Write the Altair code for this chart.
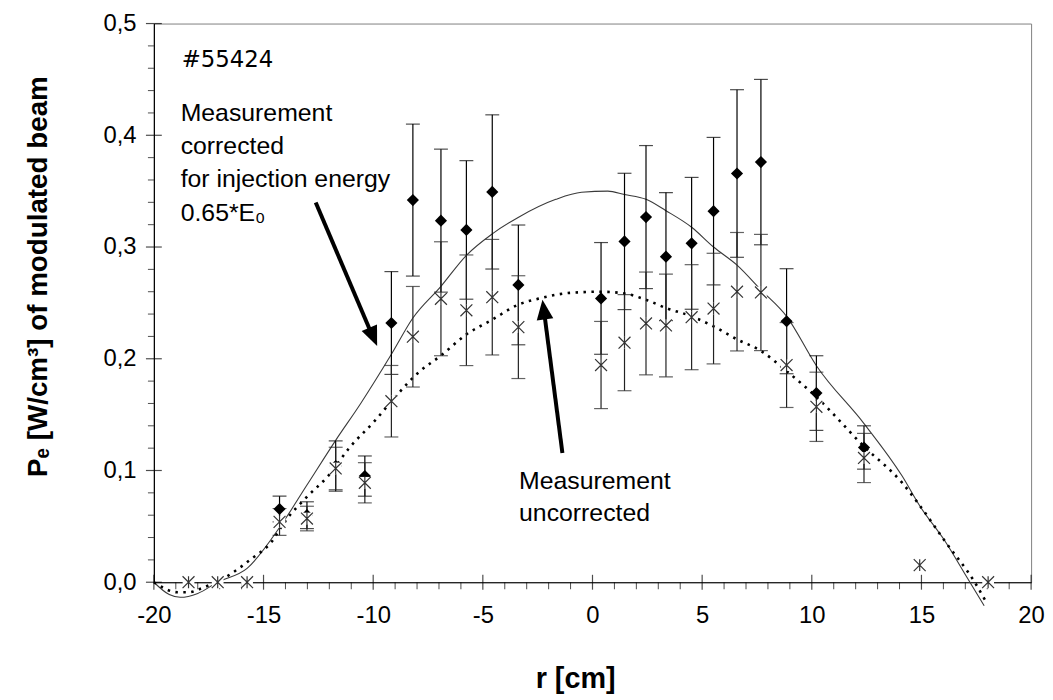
import altair as alt
import pandas as pd

# ---------------- data ----------------
# corrected measurement (filled diamonds) : r [cm], Pe, error
corr_r = [-14.27, -13.02, -11.71, -10.38, -9.17, -8.19, -6.91, -5.75, -4.57, -3.38,
          0.39, 1.46, 2.44, 3.35, 4.52, 5.52, 6.59, 7.68, 8.85, 10.21, 12.38]
corr_p = [0.0655, 0.060, 0.104, 0.095, 0.232, 0.342, 0.3236, 0.3153, 0.3493, 0.2661,
          0.254, 0.305, 0.3268, 0.2914, 0.3033, 0.3321, 0.3658, 0.376, 0.2336, 0.1693, 0.1206]
corr_err = [0.0115, 0.012, 0.0225, 0.018, 0.046, 0.068, 0.064, 0.062, 0.069, 0.0536,
            0.050, 0.061, 0.064, 0.0573, 0.059, 0.066, 0.075, 0.074, 0.047, 0.0334, 0.0194]

# uncorrected measurement (asterisks)
unc_r = [-18.42, -17.09, -15.75, -14.27, -13.02, -11.71, -10.38, -9.17, -8.19, -6.91,
         -5.75, -4.57, -3.38, 0.39, 1.46, 2.44, 3.35, 4.52, 5.52, 6.59, 7.68, 8.85,
         10.21, 12.38, 14.92, 18.04]
unc_p = [0.0, 0.0, 0.0, 0.054, 0.057, 0.1018, 0.089, 0.162, 0.2197, 0.2537,
         0.2434, 0.2551, 0.2283, 0.1944, 0.2144, 0.2316, 0.2298, 0.2372, 0.2449, 0.260,
         0.2593, 0.1944, 0.157, 0.1112, 0.0153, 0.0]
unc_err = [None, None, None, 0.012, 0.011, 0.019, 0.018, 0.032, 0.045, 0.051,
           0.0495, 0.0517, 0.046, 0.039, 0.043, 0.046, 0.046, 0.047, 0.0495, 0.053,
           0.052, 0.038, 0.031, 0.022, None, None]

# fitted profile for corrected data (thin solid line)
fitc_r = [-20, -19.3, -18.8, -18.0, -17.1, -15.75, -14.27, -13.02, -11.71, -10.57,
          -9.17, -8.19, -6.92, -5.75, -4.57, -3.39, -1.67, -0.5, 0.7, 1.46, 2.44,
          3.35, 4.52, 5.52, 6.59, 7.68, 8.85, 10.21, 12.38, 14.12, 14.92, 16.1, 17.1, 17.86]
fitc_p = [0.0, -0.011, -0.0135, -0.01, 0.0, 0.0124, 0.049, 0.087, 0.127, 0.160,
          0.204, 0.2365, 0.2646, 0.2926, 0.3118, 0.3265, 0.3427, 0.349, 0.350, 0.347, 0.3427,
          0.3325, 0.3177, 0.300, 0.2838, 0.2617, 0.238, 0.1938, 0.142, 0.095, 0.0684, 0.036, 0.0035, -0.021]

# fitted profile for uncorrected data (dotted line)
fitu_r = [-20, -18.9, -18.4, -17.9, -17.4, -16.86, -16.45, -15.55, -14.64, -14.04,
          -12.99, -12.06, -11.1, -9.9, -9.12, -7.86, -6.92, -5.75, -4.57, -3.39, -2.35,
          -1.0, 0.39, 1.46, 2.44, 3.35, 4.52, 5.52, 6.59, 7.68, 8.85, 10.21, 12.38,
          14.12, 14.82, 16.12, 17.41, 17.93]
fitu_p = [0.0, -0.009, -0.009, -0.006, -0.002, 0.003, 0.008, 0.021, 0.036, 0.054,
          0.077, 0.095, 0.120, 0.145, 0.163, 0.189, 0.2027, 0.2218, 0.235, 0.2484, 0.2543,
          0.259, 0.260, 0.2584, 0.2528, 0.2454, 0.238, 0.229, 0.2174, 0.207, 0.189, 0.1658, 0.1215,
          0.089, 0.0714, 0.0354, 0.0006, -0.017]

x_ticks = [-20, -15, -10, -5, 0, 5, 10, 15, 20]
y_ticks = [0.0, 0.1, 0.2, 0.3, 0.4, 0.5]
x_minor = [v for v in range(-20, 21) if v % 5 != 0]
y_minor = [round(0.02 * k, 2) for k in range(26) if k % 5 != 0]

# annotation arrows (data coordinates): start, end of shaft, tip, direction angle
arrow_x = [-12.62, -1.371]
arrow_y = [0.3398, 0.1157]
arrow_x2 = [-10.05, -2.208]
arrow_y2 = [0.2212, 0.2423]
tip_x = [-9.82, -2.281]
tip_y = [0.2115, 0.2528]
tip_ang = [156.9, 352.6]

# ---------------- chart ----------------
W, H = 884, 563
xs = alt.Scale(domain=[-20, 20], nice=False, zero=False)
ys = alt.Scale(domain=[0, 0.5], nice=False, zero=False)
FONT = "Liberation Sans"

x_axis = alt.Axis(values=x_ticks, ticks=False, grid=False, labelFontSize=24, labelFont=FONT,
                  labelColor="black", domainColor="black", domainWidth=1.2, labelPadding=22,
                  title=None, labelFlush=False, labelOverlap=False,
                  labelExpr="datum.value < 0 ? '-' + abs(datum.value) : '' + datum.value")
y_axis = alt.Axis(values=y_ticks, ticks=False, grid=False, labelFontSize=24, labelFont=FONT,
                  labelColor="black", domainColor="black", domainWidth=1.2, labelPadding=18,
                  title=None, labelExpr="replace(format(datum.value, '.1f'), '.', ',')")


def X(f="r"):
    return alt.X(f"{f}:Q", scale=xs, axis=x_axis, title=None)


def Y(f="p"):
    return alt.Y(f"{f}:Q", scale=ys, axis=y_axis, title=None)


df_fc = pd.DataFrame({"r": fitc_r, "p": fitc_p})
df_fu = pd.DataFrame({"r": fitu_r, "p": fitu_p})
df_c = pd.DataFrame({"r": corr_r, "p": corr_p, "e": corr_err})
df_c["lo"] = df_c.p - df_c.e
df_c["hi"] = df_c.p + df_c.e
df_u = pd.DataFrame({"r": unc_r, "p": unc_p, "e": unc_err})
df_ue = df_u.dropna().copy()
df_ue["lo"] = df_ue.p - df_ue.e.astype(float)
df_ue["hi"] = df_ue.p + df_ue.e.astype(float)

caps_c = pd.concat([df_c[["r", "lo"]].rename(columns={"lo": "v"}),
                    df_c[["r", "hi"]].rename(columns={"hi": "v"})])
caps_u = pd.concat([df_ue[["r", "lo"]].rename(columns={"lo": "v"}),
                    df_ue[["r", "hi"]].rename(columns={"hi": "v"})])

# manual crossing / minor ticks
xt_major = alt.Chart(pd.DataFrame({"r": x_ticks, "p": [0.0] * len(x_ticks)})).mark_tick(
    orient="vertical", size=15, thickness=1.2, color="black").encode(x=X(), y=Y())
xt_minor = alt.Chart(pd.DataFrame({"r": x_minor, "p": [0.0] * len(x_minor)})).mark_tick(
    orient="vertical", size=7, thickness=1, color="black").encode(x=X(), y=Y(), yOffset=alt.value(3.5))
yt_major = alt.Chart(pd.DataFrame({"r": [-20] * len(y_ticks), "p": y_ticks})).mark_tick(
    orient="horizontal", size=16, thickness=1.2, color="black").encode(x=X(), y=Y())
yt_minor = alt.Chart(pd.DataFrame({"r": [-20] * len(y_minor), "p": y_minor})).mark_tick(
    orient="horizontal", size=6, thickness=1, color="black").encode(x=X(), y=Y(), xOffset=alt.value(-3))

solid = alt.Chart(df_fc).mark_line(color="#3a3a3a", strokeWidth=1.1, interpolate="monotone").encode(
    x=X(), y=Y())
dotted = alt.Chart(df_fu).mark_line(color="black", strokeWidth=2.6, strokeDash=[2.5, 5.5],
                                    interpolate="monotone").encode(x=X(), y=Y())

rule_c = alt.Chart(df_c).mark_rule(color="black", strokeWidth=1.2).encode(x=X(), y=Y("lo"), y2="hi:Q")
cap_c = alt.Chart(caps_c).mark_tick(orient="horizontal", size=14, thickness=1.2, color="black").encode(
    x=X(), y=Y("v"))
rule_u = alt.Chart(df_ue).mark_rule(color="#222222", strokeWidth=1.2).encode(x=X(), y=Y("lo"), y2="hi:Q")
cap_u = alt.Chart(caps_u).mark_tick(orient="horizontal", size=14, thickness=1.2, color="#222222").encode(
    x=X(), y=Y("v"))

diamonds = alt.Chart(df_c).mark_point(shape="diamond", filled=True, size=150, color="black",
                                      opacity=1).encode(x=X(), y=Y())
star_bg = alt.Chart(df_u).mark_point(shape="square", filled=True, size=140, color="white",
                                     opacity=1).encode(x=X(), y=Y())
stars = alt.Chart(df_u).mark_point(shape="M-1,-1L1,1M-1,1L1,-1M0,-1L0,1", filled=False, size=144,
                                   color="#333333", strokeWidth=1.2, opacity=1).encode(x=X(), y=Y())

df_ar = pd.DataFrame({"x": arrow_x, "y": arrow_y, "x2": arrow_x2, "y2": arrow_y2,
                      "tx": tip_x, "ty": tip_y, "ang": tip_ang})
shafts = alt.Chart(df_ar).mark_rule(color="black", strokeWidth=4).encode(
    x=X("x"), y=Y("y"), x2="x2:Q", y2="y2:Q")
heads = alt.Chart(df_ar).mark_point(shape="M0,0L0.42,1L-0.42,1Z", filled=True, size=1600,
                                    color="black", opacity=1).encode(
    x=X("tx"), y=Y("ty"), angle=alt.Angle("ang:Q", scale=None))

one = pd.DataFrame({"a": [0]})
shot = alt.Chart(one).mark_text(text="#55424", align="left", baseline="alphabetic",
                                font="DejaVu Sans", fontSize=23, color="black").encode(
    x=alt.value(28), y=alt.value(44))
ann1 = alt.Chart(one).mark_text(text=["Measurement", "corrected", "for injection energy", "0.65*E₀"],
                                align="left", baseline="alphabetic", font=FONT, fontSize=25,
                                lineHeight=33.5, color="black").encode(x=alt.value(27), y=alt.value(98))
ann2 = alt.Chart(one).mark_text(text=["Measurement", "uncorrected"], align="left",
                                baseline="alphabetic", font=FONT, fontSize=25, lineHeight=32,
                                color="black").encode(x=alt.value(368), y=alt.value(469))
xtitle = alt.Chart(one).mark_text(text="r [cm]", align="center", baseline="alphabetic", font=FONT,
                                  fontSize=29, fontWeight="bold", color="black").encode(
    x=alt.value(425), y=alt.value(670))
ytitle = alt.Chart(one).mark_text(text="Pₑ [W/cm³] of modulated beam", align="center",
                                  baseline="alphabetic", font=FONT, fontSize=28, fontWeight="bold",
                                  angle=270, color="black").encode(x=alt.value(-108), y=alt.value(255))

chart = alt.layer(
    solid, dotted, xt_major, xt_minor, yt_major, yt_minor,
    rule_c, cap_c, rule_u, cap_u, diamonds, star_bg, stars,
    shafts, heads, shot, ann1, ann2, xtitle, ytitle
).properties(
    width=W, height=H, autosize="none",
    padding={"left": 147, "top": 13, "right": 14, "bottom": 115},
    background="white"
).configure_view(stroke="#808080", strokeWidth=1)

chart.save("out.html", embed_options={"renderer": "svg", "actions": False})
